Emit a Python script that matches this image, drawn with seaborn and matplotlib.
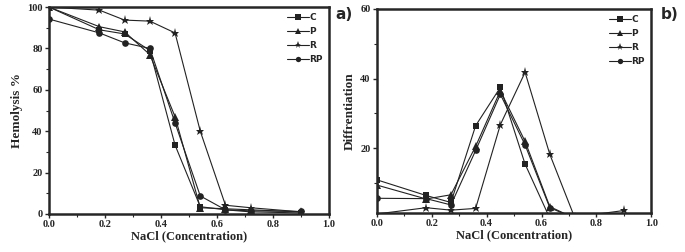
import numpy as np
import pandas as pd
import matplotlib
matplotlib.use("Agg")
import matplotlib.pyplot as plt
from matplotlib.ticker import MultipleLocator
import seaborn as sns

# NaCl concentrations
nacl = [0.0, 0.18, 0.27, 0.36, 0.45, 0.54, 0.63, 0.72, 0.9]
samples = ["C", "P", "R", "RP"]

# a) hemolysis %
hemo_C = [100, 89, 87, 79, 33.3, 3.5, 2.0, 1.0, 0.5]
hemo_P = [100, 90.5, 88, 77, 47, 3.0, 2.5, 2.0, 1.0]
hemo_R = [100, 98.5, 93.7, 93.2, 87.5, 40, 4.2, 3.0, 1.0]
hemo_RP = [94.2, 87.5, 82.7, 80, 44, 8.7, 2.0, 1.5, 1.2]

# b) differentiation
diff_C = [11.0, 6.5, 4.5, 26.5, 37.5, 15.5, 0.0, 0.0, 0.0]
diff_P = [9.5, 5.5, 6.7, 20.6, 36.5, 22.0, 3.3, 0.0, 0.0]
diff_R = [1.2, 3.0, 2.3, 2.8, 26.8, 41.8, 18.3, 0.3, 2.2]
diff_RP = [5.7, 5.6, 3.8, 19.4, 35.5, 21.0, 3.0, 0.0, 0.0]

def long_form(series):
    rows = []
    for name, vals in zip(samples, series):
        for x, v in zip(nacl, vals):
            rows.append({"NaCl": x, "value": v, "sample": name})
    return pd.DataFrame(rows)

df_a = long_form([hemo_C, hemo_P, hemo_R, hemo_RP])
df_b = long_form([diff_C, diff_P, diff_R, diff_RP])

sns.set_style("ticks")
plt.rcParams["font.family"] = ["Liberation Serif", "DejaVu Serif"]

markers = {"C": "s", "P": "^", "R": "*", "RP": "o"}
msizes = {"C": 4.8, "P": 5.2, "R": 6.5, "RP": 4.8}
pal = {s: "#222222" for s in samples}

fig = plt.figure(figsize=(6.85, 2.52), dpi=100)
ax1 = fig.add_axes([0.0715, 0.151, 0.409, 0.821])
ax2 = fig.add_axes([0.550, 0.155, 0.401, 0.810])

def draw(ax, df, ylabel):
    sns.lineplot(data=df, x="NaCl", y="value", hue="sample", style="sample",
                 markers=markers, dashes=False, palette=pal, linewidth=0.8,
                 markersize=4.5, markeredgewidth=0, ax=ax, legend=True)
    for line, s in zip(ax.get_lines(), samples):
        line.set_markersize(msizes[s])
    leg = ax.get_legend()
    handles = leg.legend_handles
    labels = [t.get_text() for t in leg.get_texts()]
    for h, s in zip(handles, labels):
        h.set_markersize(msizes.get(s, 4.5) * 0.8)
        h.set_linewidth(0.8)
    ax.legend(handles, labels, loc="upper right", frameon=False,
              prop={"family": "DejaVu Sans", "weight": "bold", "size": 6.5},
              handlelength=2.4, handletextpad=0.05, labelspacing=0.55,
              borderaxespad=0.3)
    ax.set_xlim(0, 1.0)
    ax.xaxis.set_minor_locator(MultipleLocator(0.1))
    ax.set_xlabel("NaCl (Concentration)", fontsize=9, fontweight="bold", labelpad=1)
    ax.set_ylabel(ylabel, fontsize=9.5, fontweight="bold", labelpad=3)
    ax.tick_params(axis="both", which="major", labelsize=7.5, length=3, width=1, pad=1.5)
    ax.tick_params(axis="both", which="minor", length=2, width=0.8)
    for sp in ax.spines.values():
        sp.set_linewidth(1.8)
        sp.set_visible(True)

xt = [0.0, 0.2, 0.4, 0.6, 0.8, 1.0]
xtl = ["0.0", "0.2", "0.4", "0.6", "0.8", "1.0"]

draw(ax1, df_a, "Hemolysis %")
ax1.set_ylim(0, 100)
ax1.yaxis.set_minor_locator(MultipleLocator(10))
ax1.set_xticks(xt)
ax1.set_xticklabels(xtl, fontweight="bold")
ax1.set_yticks([0, 20, 40, 60, 80, 100])
ax1.set_yticklabels(["0", "20", "40", "60", "80", "100"], fontweight="bold")

draw(ax2, df_b, "Diffrentiation")
ax2.set_ylim(1.5, 60)
ax2.set_yticks([20, 40, 60])
ax2.set_yticklabels(["20", "40", "60"], fontweight="bold")
ax2.yaxis.set_minor_locator(MultipleLocator(10))
ax2.set_xticks(xt)
ax2.set_xticklabels(xtl, fontweight="bold")

fig.text(0.489, 0.925, "a)", fontsize=11, fontweight="bold", family="DejaVu Sans")
fig.text(0.964, 0.925, "b)", fontsize=11, fontweight="bold", family="DejaVu Sans")

fig.savefig("out.png", dpi=100)
